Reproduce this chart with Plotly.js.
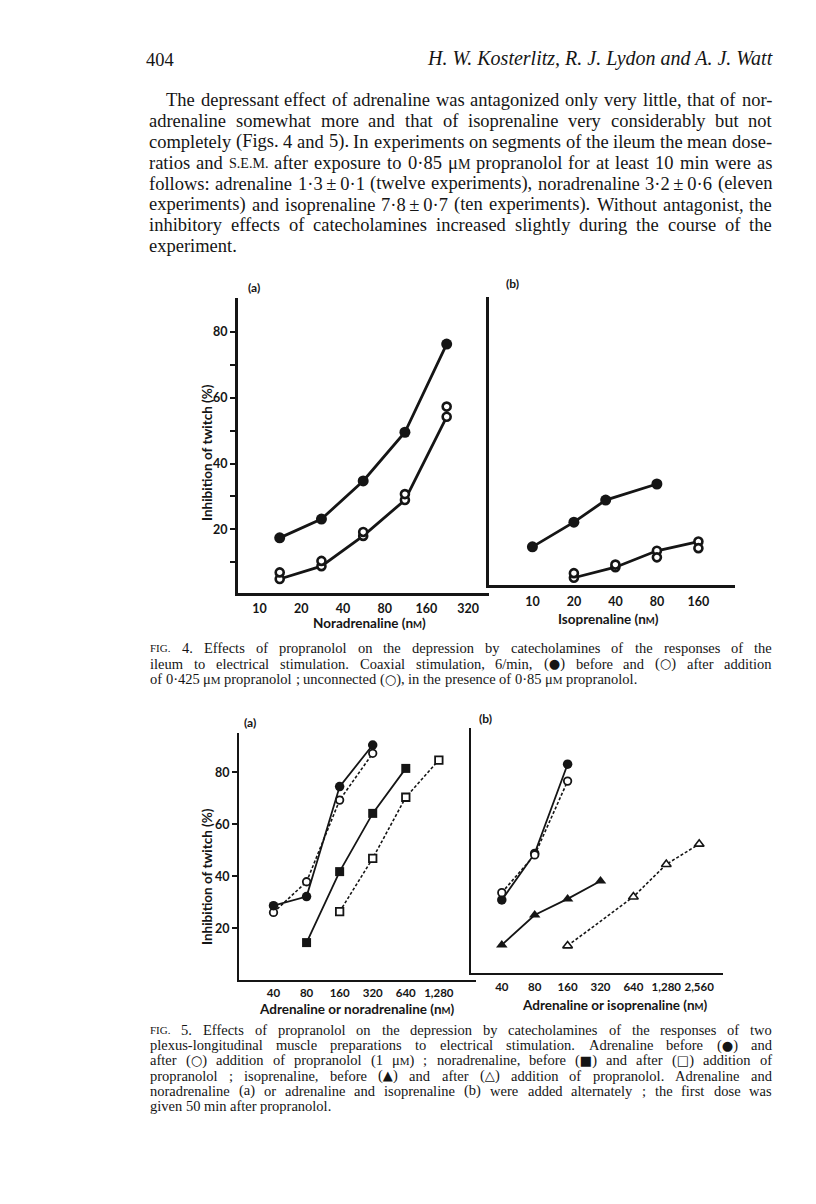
<!DOCTYPE html>
<html><head><meta charset="utf-8">
<script src="https://cdn.plot.ly/plotly-3.0.1.min.js"></script>
<style>html,body{margin:0;padding:0;background:#fff}</style>
</head><body><div id="page" style="width:816px;height:1204px"></div>
<script>
// ================= DATA =================
// Fig. 4 (a) noradrenaline, ileum
const f4a_dose = [14, 28, 56, 112, 224];
const f4a_before = [17.4, 23.1, 34.7, 49.5, 76.3];     // filled circles
const f4a_after = [4.9, 8.8, 18.0, 28.9, 54.2];        // open circles, connected
const f4a_unconn = [6.9, 10.4, 19.2, 30.7, 57.3];      // open circles, unconnected
const f4a_ticks = [10, 20, 40, 80, 160, 320];
// Fig. 4 (b) isoprenaline, ileum
const f4b_dose_before = [10, 20, 34, 80];
const f4b_before = [11.6, 19.1, 25.8, 30.7];
const f4b_dose_after = [20, 40, 80, 160];
const f4b_after = [2.2, 5.4, 10.4, 13.2];
const f4b_unconn = [3.6, 6.2, 8.4, 11.2];
const f4b_ticks = [10, 20, 40, 80, 160];
// Fig. 5 (a) adrenaline / noradrenaline
const f5a_adr_dose = [40, 80, 160, 320];
const f5a_adr_before = [28.7, 32.2, 74.5, 90.5];
const f5a_adr_after = [26.1, 37.9, 69.3, 87.3];
const f5a_nor_before_dose = [80, 160, 320, 640];
const f5a_nor_before = [14.5, 41.8, 64.2, 81.5];
const f5a_nor_after_dose = [160, 320, 640, 1280];
const f5a_nor_after = [26.4, 46.9, 70.4, 84.7];
const f5a_ticks = [40, 80, 160, 320, 640, 1280];
const f5a_ticktext = ['40', '80', '160', '320', '640', '1,280'];
// Fig. 5 (b) adrenaline / isoprenaline
const f5b_adr_dose = [40, 80, 160];
const f5b_adr_before = [28.1, 46.0, 80.3];
const f5b_adr_after = [30.9, 45.4, 73.8];
const f5b_iso_before_dose = [40, 80, 160, 320];
const f5b_iso_before = [10.8, 22.3, 28.5, 35.4];
const f5b_iso_after_dose = [160, 640, 1280, 2560];
const f5b_iso_after = [10.5, 29.3, 41.8, 49.6];
const f5b_ticks = [40, 80, 160, 320, 640, 1280, 2560];
const f5b_ticktext = ['40', '80', '160', '320', '640', '1,280', '2,560'];
const f4_yticks = [10, 20, 30, 40, 50, 60, 70, 80];
const f4_yticktext = ['', '20', '', '40', '', '60', '', '80'];
const f5_yticks = [20, 40, 60, 80];

// ================= TEXT =================
const headerLeft = '404';
const headerRight = 'H. W. Kosterlitz, R. J. Lydon and A. J. Watt';
const bodyLines = [
  'The depressant effect of adrenaline was antagonized only very little, that of nor-',
  'adrenaline somewhat more and that of isoprenaline very considerably but not',
  'completely (Figs. 4 and 5). In experiments on segments of the ileum the mean dose-',
  'ratios and S.E.M. after exposure to 0·85 μM propranolol for at least 10 min were as',
  'follows: adrenaline 1·3\u2009±\u20090·1 (twelve experiments), noradrenaline 3·2\u2009±\u20090·6 (eleven',
  'experiments) and isoprenaline 7·8\u2009±\u20090·7 (ten experiments). Without antagonist, the',
  'inhibitory effects of catecholamines increased slightly during the course of the',
  'experiment.'
];
const fig4Caption = [
  'FIG. 4. Effects of propranolol on the depression by catecholamines of the responses of the',
  'ileum to electrical stimulation. Coaxial stimulation, 6/min, (●) before and (○) after addition',
  'of 0·425 μM propranolol ; unconnected (○), in the presence of 0·85 μM propranolol.'
];
const fig5Caption = [
  'FIG. 5. Effects of propranolol on the depression by catecholamines of the responses of two',
  'plexus-longitudinal muscle preparations to electrical stimulation. Adrenaline before (●) and',
  'after (○) addition of propranolol (1 μM) ; noradrenaline, before (■) and after (□) addition of',
  'propranolol ; isoprenaline, before (▲) and after (△) addition of propranolol. Adrenaline and',
  'noradrenaline (a) or adrenaline and isoprenaline (b) were added alternately ; the first dose was',
  'given 50 min after propranolol.'
];
const yTitle = 'Inhibition of twitch (%)';
const nM = '(n<span style="font-size:9.5px">M</span>)';
const f4aXTitle = 'Noradrenaline ' + nM;
const f4bXTitle = 'Isoprenaline ' + nM;
const f5aXTitle = 'Adrenaline or noradrenaline ' + nM;
const f5bXTitle = 'Adrenaline or isoprenaline ' + nM;

// ================= GEOMETRY HELPERS =================
const W = 816, H = 1204;
const xd = (a, b) => [a / W, b / W];
const yd = (top, bottom) => [1 - bottom / H, 1 - top / H];
function logRange(px0, px1, refPx, refVal, perDbl) {
  const f = px => Math.log10(refVal) + (px - refPx) / perDbl * Math.log10(2);
  return [f(px0), f(px1)];
}
const linRange = (top, bottom, zeroPx, perUnit) => [(zeroPx - bottom) / perUnit, (zeroPx - top) / perUnit];
const PX = x => x / W, PY = y => 1 - y / H;

const INK = '#151515';
const SANS = 'Lato, "Open Sans", sans-serif';
const tickFont = {family: SANS, size: 12.5, color: INK, weight: 700};
const tickFont5 = {family: SANS, size: 11.5, color: INK, weight: 700};
const base = {showgrid: false, zeroline: false, fixedrange: true, showline: true, linecolor: INK};

const layout = {
  width: W, height: H, margin: {l: 0, r: 0, t: 0, b: 0},
  paper_bgcolor: '#fff', plot_bgcolor: 'rgba(0,0,0,0)', showlegend: false,
  // Fig 4 (a)
  xaxis: {...base, type: 'log', anchor: 'y', domain: xd(238, 489), range: logRange(238, 489, 259.45, 10, 41.74),
    linewidth: 3, tickvals: f4a_ticks, ticktext: f4a_ticks.map(String), ticks: '', tickfont: tickFont, ticklabelstandoff: 2},
  yaxis: {...base, anchor: 'x', domain: yd(298, 593), range: linRange(298, 593, 595.1, 3.29),
    linewidth: 3, tickvals: f4_yticks, ticktext: f4_yticktext, ticks: 'outside', ticklen: 5, tickwidth: 2, tickcolor: INK, tickfont: tickFont},
  // Fig 4 (b)
  xaxis2: {...base, type: 'log', anchor: 'y2', domain: xd(489, 735), range: logRange(489, 735, 532.4, 10, 41.5),
    linewidth: 3, tickvals: f4b_ticks, ticktext: f4b_ticks.map(String), ticks: '', tickfont: tickFont, ticklabelstandoff: 3},
  yaxis2: {...base, anchor: 'x2', domain: yd(297, 585), range: linRange(297, 585, 585, 3.29),
    linewidth: 3, showticklabels: false, ticks: ''},
  // Fig 5 (a)
  xaxis3: {...base, type: 'log', anchor: 'y3', domain: xd(239, 476), range: logRange(239, 476, 273.5, 40, 33.07),
    linewidth: 2, tickvals: f5a_ticks, ticktext: f5a_ticktext, ticks: '', tickfont: tickFont5, ticklabelstandoff: 1},
  yaxis3: {...base, anchor: 'x3', domain: yd(733, 980), range: linRange(733, 980, 980.3, 2.6),
    linewidth: 2, tickvals: f5_yticks, ticktext: f5_yticks.map(String), ticks: 'outside', ticklen: 5, tickwidth: 1.8, tickcolor: INK, tickfont: tickFont},
  // Fig 5 (b)
  xaxis4: {...base, type: 'log', anchor: 'y4', domain: xd(471, 723), range: logRange(471, 723, 501.8, 40, 32.9),
    linewidth: 2, tickvals: f5b_ticks, ticktext: f5b_ticktext, ticks: '', tickfont: tickFont5, ticklabelstandoff: 2},
  yaxis4: {...base, anchor: 'x4', domain: yd(728, 973), range: linRange(728, 973, 973, 2.6),
    linewidth: 2, showticklabels: false, ticks: ''},
  annotations: []
};

// ================= TRACES =================
function series(x, y, ax, opt) {
  const t = {x, y, xaxis: ax[0], yaxis: ax[1], type: 'scatter', mode: opt.line ? 'lines+markers' : 'markers',
    hoverinfo: 'skip', cliponaxis: false,
    marker: {symbol: opt.symbol, size: opt.size, color: opt.open ? '#fff' : INK,
      line: {color: INK, width: opt.open ? opt.mlw : 0}}};
  if (opt.line) t.line = {color: INK, width: opt.lw, dash: opt.dash || 'solid'};
  return t;
}
const A1 = ['x', 'y'], A2 = ['x2', 'y2'], A3 = ['x3', 'y3'], A4 = ['x4', 'y4'];
const data = [
  series(f4a_dose, f4a_before, A1, {line: true, lw: 2.8, symbol: 'circle', size: 11}),
  series(f4a_dose, f4a_after, A1, {line: true, lw: 2.8, symbol: 'circle', size: 8, open: true, mlw: 2.6}),
  series(f4a_dose, f4a_unconn, A1, {symbol: 'circle', size: 8, open: true, mlw: 2.6}),
  series(f4b_dose_before, f4b_before, A2, {line: true, lw: 2.8, symbol: 'circle', size: 11}),
  series(f4b_dose_after, f4b_after, A2, {line: true, lw: 2.8, symbol: 'circle', size: 8, open: true, mlw: 2.6}),
  series(f4b_dose_after, f4b_unconn, A2, {symbol: 'circle', size: 8, open: true, mlw: 2.6}),
  series(f5a_adr_dose, f5a_adr_after, A3, {line: true, lw: 1.6, dash: '3px,2px', symbol: 'circle', size: 7.5, open: true, mlw: 1.8}),
  series(f5a_adr_dose, f5a_adr_before, A3, {line: true, lw: 1.8, symbol: 'circle', size: 9.5}),
  series(f5a_nor_before_dose, f5a_nor_before, A3, {line: true, lw: 1.8, symbol: 'square', size: 9}),
  series(f5a_nor_after_dose, f5a_nor_after, A3, {line: true, lw: 1.6, dash: '3px,2px', symbol: 'square', size: 7.5, open: true, mlw: 1.8}),
  series(f5b_adr_dose, f5b_adr_before, A4, {line: true, lw: 1.8, symbol: 'circle', size: 9.5}),
  series(f5b_adr_dose, f5b_adr_after, A4, {line: true, lw: 1.6, dash: '3px,2px', symbol: 'circle', size: 7.5, open: true, mlw: 1.8}),
  series(f5b_iso_before_dose, f5b_iso_before, A4, {line: true, lw: 1.8, symbol: 'triangle-up', size: 10}),
  series(f5b_iso_after_dose, f5b_iso_after, A4, {line: true, lw: 1.6, dash: '3px,2px', symbol: 'triangle-up', size: 8.5, open: true, mlw: 1.6})
];

// ================= ANNOTATIONS =================
const ann = layout.annotations;
function label(text, x, y, size, opts) {
  ann.push(Object.assign({xref: 'paper', yref: 'paper', x: PX(x), y: PY(y), xanchor: 'center', yanchor: 'middle',
    text, showarrow: false, borderpad: 0, borderwidth: 0,
    font: {family: SANS, size, color: INK, weight: 700}}, opts || {}));
}
// chart labels
label('(a)', 254, 287, 12);
label('(b)', 512, 283, 12);
label('(a)', 250, 722, 12);
label('(b)', 485, 718, 12);
label(yTitle, 207, 453, 13.5, {textangle: -90});
label(yTitle, 207, 877, 13.5, {textangle: -90});
label(f4aXTitle, 369, 623, 13.5);
label(f4bXTitle, 608, 619, 13.5);
label(f5aXTitle, 357, 1009, 13.5);
label(f5bXTitle, 615, 1005, 13.5);

// page text (justified word by word)
const SERIF = 'Liberation Serif';
const SYM = 'DejaVu Sans';
const ctx = document.createElement('canvas').getContext('2d');
function segs(tok, size, small) {
  const out = [];
  tok.split(/(S\.E\.M\.|FIG\.|μM|[●○■□▲△])/).forEach(p => {
    if (!p) return;
    if (p === 'S.E.M.' || p === 'FIG.') out.push({t: p, s: small});
    else if (p === 'μM') { out.push({t: 'μ', s: size}); out.push({t: 'M', s: small}); }
    else if (/[●○■□▲△]/.test(p)) out.push({t: p, s: Math.round(size * 0.9 * 10) / 10, f: SYM});
    else out.push({t: p, s: size});
  });
  return out;
}
function measure(sg, italic) {
  let w = 0;
  sg.forEach(s => { ctx.font = (italic ? 'italic ' : '') + s.s + 'px "' + (s.f || SERIF) + '"'; w += ctx.measureText(s.t).width; });
  return w;
}
function html(sg, size) {
  return sg.map(s => {
    if (s.f) return '<span style="font-family:' + s.f + ';font-size:' + s.s + 'px">' + s.t + '</span>';
    return s.s === size ? s.t : '<span style="font-size:' + s.s + 'px">' + s.t + '</span>';
  }).join('');
}
function word(text, x, y, size, style) {
  ann.push({xref: 'paper', yref: 'paper', x: PX(x), y: PY(y), xanchor: 'left', yanchor: 'middle',
    text, showarrow: false, borderpad: 0, borderwidth: 0, font: {family: SERIF, size, color: INK, style: style || 'normal'}});
}
function layoutLines(lines, o, size) {
  const small = Math.round(size * o.smallRatio * 10) / 10;
  return lines.map((ln, i) => {
    const words = ln.split(' ').filter(w => w.length);
    const sg = words.map(w => segs(w, size, small));
    const ws = sg.map(s => measure(s));
    const left = o.left + (i === 0 ? (o.indent || 0) : 0);
    const total = ws.reduce((a, b) => a + b, 0);
    const space = measure([{t: ' ', s: size}]);
    const just = i < o.justifyCount && words.length > 1;
    const gap = just ? (o.right - left - total) / (words.length - 1) : space;
    return {sg, ws, left, gap, just};
  });
}
function para(lines, o) {
  // pick the largest font size whose justified lines still keep a sensible word gap
  let size = o.maxSize;
  for (; size > o.minSize; size -= 0.25) {
    const L = layoutLines(lines, o, size);
    if (L.every(l => !l.just || l.gap >= o.minGap * size)) break;
  }
  const L = layoutLines(lines, o, size);
  L.forEach((l, i) => {
    let x = l.left;
    const y = o.y0 + o.dy * i;
    l.sg.forEach((s, j) => { word(html(s, size), x, y, size); x += l.ws[j] + l.gap; });
  });
  return size;
}
const bodySize = para(bodyLines, {left: 149, right: 772, indent: 17, y0: 100, dy: 20.9, maxSize: 18.5, minSize: 14, minGap: 0.22, smallRatio: 0.76, justifyCount: 7});
para(fig4Caption, {left: 150, right: 772, y0: 648, dy: 15.6, maxSize: 14.5, minSize: 12, minGap: 0.2, smallRatio: 0.76, justifyCount: 2});
para(fig5Caption, {left: 150, right: 772, y0: 1030, dy: 15.2, maxSize: 14.5, minSize: 12, minGap: 0.2, smallRatio: 0.76, justifyCount: 5});
// running head: "404" on the left, authors in italics ending at the text's right edge
word(headerLeft, 146, 60, bodySize);
const hdrW = measure([{t: headerRight, s: 20}], true);
const hdrSize = Math.min(20, Math.round(20 * (772 - 425) / hdrW * 4) / 4);
word(headerRight, 772 - measure([{t: headerRight, s: hdrSize}], true), 59, hdrSize, 'italic');

Plotly.newPlot('page', data, layout, {staticPlot: true, displayModeBar: false});
</script>
</body></html>
